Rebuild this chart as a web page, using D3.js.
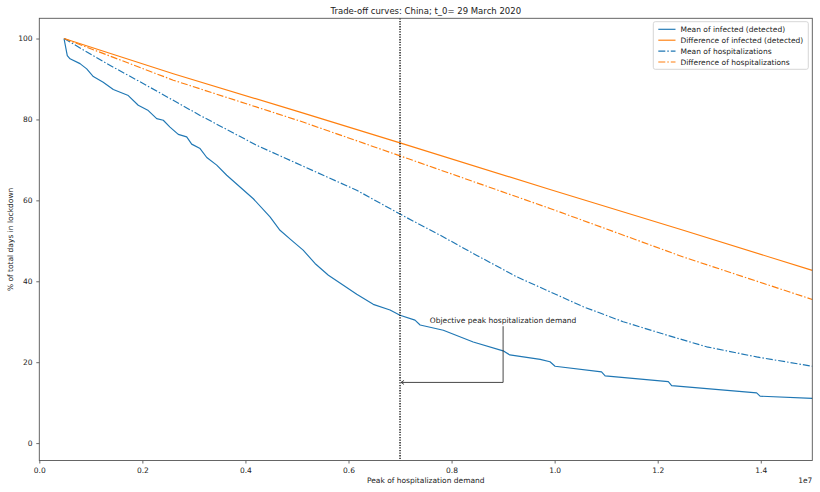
<!DOCTYPE html>
<html>
<head>
<meta charset="utf-8">
<script src="https://cdn.jsdelivr.net/npm/d3@7"></script>
<style>
body{margin:0;background:#fff;}
text{font-family:"DejaVu Sans",sans-serif;}
</style>
</head>
<body>
<script>
//data (x = peak hospitalization demand, y = % days in lockdown)
const meanInfected = [
    [4.8e5,100],[5.43e5,95.8],[5.96e5,95.0],[7.9e5,93.8],[9.2e5,92.5],[1.048e6,90.6],
    [1.24e6,89.2],[1.436e6,87.4],[1.63e6,86.4],[1.727e6,85.9],[1.92e6,83.5],[2.115e6,82.2],
    [2.278e6,80.2],[2.406e6,79.8],[2.536e6,78.1],[2.697e6,76.3],[2.86e6,75.7],[2.957e6,73.9],
    [3.12e6,72.8],[3.25e6,70.6],[3.443e6,68.7],[3.637e6,66.2],[3.895e6,63.3],[4.153e6,60.4],
    [4.477e6,55.9],[4.671e6,52.6],[4.88e6,50.3],
    [5.12e6,47.7],[5.35e6,44.4],[5.61e6,41.5],[5.9e6,39.0],[6.16e6,36.8],[6.48e6,34.3],
    [6.806e6,32.9],[7.0e6,31.6],[7.29e6,30.4],[7.39e6,29.2],[7.84e6,27.9],[8.42e6,25.0],
    [9.0e6,22.8],[9.13e6,21.8],[9.72e6,20.7],[9.91e6,20.1],[1.0008e7,19.0],[1.091e7,17.6],
    [1.098e7,16.6],[1.2206e7,15.2],[1.227e7,14.2],[1.392e7,12.4],[1.3986e7,11.6],[1.5e7,11.05]
];
const diffInfected = [
    [4.8e5,100],[2.6e6,91.3],[5.06e6,81.8],[7.0e6,74.2],[9.91e6,62.7],[1.2497e7,52.6],[1.5e7,42.7]
];
const meanHosp = [
    [4.8e5,100],[1.31e6,93.8],[2.084e6,88.4],[3.12e6,81.0],[4.22e6,73.6],[5.51e6,66.2],
    [6.16e6,62.5],[7.0e6,56.6],[7.776e6,51.4],[8.49e6,46.4],[9.265e6,41.1],[9.91e6,37.4],
    [1.0557e7,33.7],[1.133e7,30.0],[1.2175e7,26.7],[1.295e7,23.8],[1.392e7,21.3],[1.5e7,19.0]
];
const diffHosp = [
    [4.8e5,100],[2.6e6,89.7],[5.06e6,79.6],[7.0e6,71.0],[9.91e6,58.0],[1.2497e7,46.0],[1.5e7,35.5]
];
const seriesNames = ["Mean of infected (detected)","Difference of infected (detected)",
                     "Mean of hospitalizations","Difference of hospitalizations"];
const xTicks = [0,2e6,4e6,6e6,8e6,1e7,1.2e7,1.4e7];
const yTicks = [0,20,40,60,80,100];
const objectivePeak = 7e6;
const annotText = "Objective peak hospitalization demand";
const annotXY = [7e6,15];
const annotTextXY = [9e6,30];

const blue = "#1f77b4", orange = "#ff7f0e";
const dashDot = "7,2,1.5,2";
const series = [
    {data: meanInfected, color: blue, dash: null},
    {data: diffInfected, color: orange, dash: null},
    {data: meanHosp, color: blue, dash: dashDot},
    {data: diffHosp, color: orange, dash: dashDot}
];

const W = 820, H = 492;
const plotLeft = 39.3, plotRight = 812.3, plotTop = 18.3, plotBottom = 460.5;
const fs = "7.5px";

const svg = d3.select("body").append("svg")
    .attr("width", W)
    .attr("height", H);

const x = d3.scaleLinear().domain([0,1.5e7]).range([plotLeft,plotRight]);
const y = d3.scaleLinear().domain([-4.3,105]).range([plotBottom,plotTop]);

//axes
const xAxis = svg.append("g")
    .attr("transform", "translate(0," + plotBottom + ")")
    .call(d3.axisBottom(x).tickValues(xTicks).tickSize(3).tickSizeOuter(0)
        .tickFormat(d => (d/1e7).toFixed(1)));
const yAxis = svg.append("g")
    .attr("transform", "translate(" + plotLeft + ",0)")
    .call(d3.axisLeft(y).tickValues(yTicks).tickSize(3).tickSizeOuter(0));

[xAxis, yAxis].forEach(g => {
    g.select(".domain").remove();
    g.selectAll(".tick line").attr("stroke", "#444").attr("stroke-width", 0.8);
    g.selectAll(".tick text")
        .attr("fill", "#222")
        .style("font-size", fs)
        .style("font-family", "DejaVu Sans");
});
xAxis.selectAll(".tick text").attr("dy", "0.85em");
yAxis.selectAll(".tick text").attr("dx", "-0.1em");

//curves
const line = d3.line().x(d => x(d[0])).y(d => y(d[1]));
svg.append("g").selectAll("path")
    .data(series)
    .enter()
    .append("path")
    .attr("d", d => line(d.data))
    .attr("fill", "none")
    .attr("stroke", d => d.color)
    .attr("stroke-width", 1.15)
    .attr("stroke-linejoin", "round")
    .attr("stroke-dasharray", d => d.dash);

//objective line
svg.append("line")
    .attr("x1", x(objectivePeak)).attr("x2", x(objectivePeak))
    .attr("y1", plotTop).attr("y2", plotBottom)
    .attr("stroke", "#000")
    .attr("stroke-width", 1.3)
    .attr("stroke-dasharray", "1.3,1.3");

//annotation
const ax = x(annotXY[0]) + 1, ay = y(annotXY[1]);
const tx = x(annotTextXY[0]), ty = y(annotTextXY[1]);
svg.append("text")
    .attr("x", tx).attr("y", ty + 1.2)
    .attr("text-anchor", "middle")
    .style("font-size", fs)
    .attr("fill", "#222")
    .text(annotText);
svg.append("path")
    .attr("d", "M" + tx + "," + (ty + 4.5) + "V" + ay + "H" + ax)
    .attr("fill", "none")
    .attr("stroke", "#333")
    .attr("stroke-width", 0.9);
svg.append("path")
    .attr("d", "M" + (ax + 3) + "," + (ay - 2) + "L" + ax + "," + ay + "L" + (ax + 3) + "," + (ay + 2))
    .attr("fill", "none")
    .attr("stroke", "#333")
    .attr("stroke-width", 0.9);

//frame
svg.append("rect")
    .attr("x", plotLeft).attr("y", plotTop)
    .attr("width", plotRight - plotLeft).attr("height", plotBottom - plotTop)
    .attr("fill", "none")
    .attr("stroke", "#555")
    .attr("stroke-width", 0.9);

//titles
svg.append("text")
    .attr("x", (plotLeft + plotRight)/2).attr("y", 14)
    .attr("text-anchor", "middle")
    .style("font-size", "8.5px")
    .attr("fill", "#222")
    .text("Trade-off curves: China; t_0= 29 March 2020");
svg.append("text")
    .attr("x", (plotLeft + plotRight)/2).attr("y", 483)
    .attr("text-anchor", "middle")
    .style("font-size", fs)
    .attr("fill", "#222")
    .text("Peak of hospitalization demand");
svg.append("text")
    .attr("x", plotRight).attr("y", 483)
    .attr("text-anchor", "end")
    .style("font-size", fs)
    .attr("fill", "#222")
    .text("1e7");
svg.append("text")
    .attr("transform", "translate(13," + (plotTop + plotBottom)/2 + ") rotate(-90)")
    .attr("text-anchor", "middle")
    .style("font-size", fs)
    .attr("fill", "#222")
    .text("% of total days in lockdown");

//legend
const legend = svg.append("g");
legend.append("rect")
    .attr("x", 653.3).attr("y", 21.7)
    .attr("width", 155).attr("height", 47.6)
    .attr("rx", 2)
    .attr("fill", "#fff").attr("fill-opacity", 0.8)
    .attr("stroke", "#ccc").attr("stroke-width", 0.8);
const rows = legend.selectAll(".row")
    .data(series)
    .enter()
    .append("g")
    .attr("transform", (d, i) => "translate(0," + (29.3 + i*10.9) + ")");
rows.append("line")
    .attr("x1", 658.3).attr("x2", 675.5)
    .attr("stroke", d => d.color)
    .attr("stroke-width", 1.15)
    .attr("stroke-dasharray", d => d.dash);
rows.append("text")
    .attr("x", 680.5).attr("y", 2.7)
    .style("font-size", fs)
    .attr("fill", "#222")
    .text((d, i) => seriesNames[i]);
</script>
</body>
</html>
